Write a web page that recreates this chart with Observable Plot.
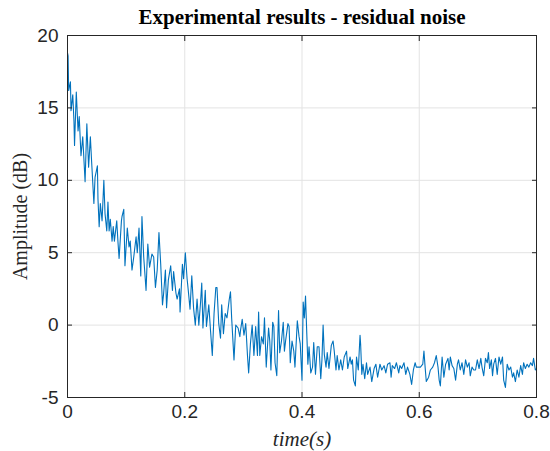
<!DOCTYPE html>
<html>
<head>
<meta charset="utf-8">
<script src="https://cdn.jsdelivr.net/npm/d3@7"></script>
<script src="https://cdn.jsdelivr.net/npm/@observablehq/plot@0.6"></script>
<style>
  html, body { margin: 0; padding: 0; background: #fff; }
</style>
</head>
<body>
<div id="chart"></div>
<script>
const titleText = "Experimental results - residual noise";
const xLabel = "time(s)";
const yLabel = "Amplitude (dB)";
const xTicks = [0, 0.2, 0.4, 0.6, 0.8];
const yTicks = [-5, 0, 5, 10, 15, 20];

const times = [
  0.000, 0.001, 0.002, 0.005, 0.006, 0.009, 0.011, 0.012, 0.015, 0.018, 0.020, 0.023, 0.026, 0.030, 0.033, 0.036,
  0.039, 0.041, 0.045, 0.047, 0.051, 0.052, 0.054, 0.056, 0.059, 0.062, 0.064, 0.067, 0.069, 0.071, 0.073, 0.076,
  0.078, 0.080, 0.084, 0.086, 0.088, 0.092, 0.093, 0.096, 0.098, 0.102, 0.105, 0.107, 0.110, 0.113, 0.117, 0.119,
  0.122, 0.125, 0.127, 0.130, 0.134, 0.137, 0.140, 0.144, 0.147, 0.150, 0.153, 0.156, 0.159, 0.162, 0.164, 0.167,
  0.169, 0.172, 0.176, 0.179, 0.181, 0.185, 0.187, 0.191, 0.192, 0.193, 0.196, 0.198, 0.201, 0.204, 0.206, 0.209,
  0.212, 0.215, 0.218, 0.221, 0.224, 0.227, 0.229, 0.231, 0.235, 0.237, 0.241, 0.244, 0.247, 0.250, 0.253, 0.255,
  0.258, 0.261, 0.263, 0.266, 0.269, 0.272, 0.276, 0.278, 0.280, 0.284, 0.287, 0.291, 0.294, 0.295, 0.298, 0.301,
  0.304, 0.307, 0.309, 0.312, 0.315, 0.318, 0.321, 0.324, 0.326, 0.328, 0.331, 0.334, 0.336, 0.339, 0.343, 0.345,
  0.347, 0.350, 0.352, 0.354, 0.357, 0.360, 0.362, 0.365, 0.368, 0.370, 0.372, 0.376, 0.378, 0.380, 0.383, 0.386,
  0.388, 0.392, 0.395, 0.397, 0.400, 0.402, 0.404, 0.406, 0.408, 0.410, 0.412, 0.415, 0.418, 0.420, 0.423, 0.426,
  0.429, 0.432, 0.434, 0.436, 0.438, 0.441, 0.443, 0.446, 0.450, 0.453, 0.455, 0.458, 0.460, 0.463, 0.466, 0.469,
  0.472, 0.476, 0.478, 0.482, 0.484, 0.486, 0.488, 0.491, 0.493, 0.496, 0.499, 0.500, 0.502, 0.504, 0.507, 0.510,
  0.512, 0.516, 0.519, 0.523, 0.526, 0.529, 0.533, 0.536, 0.540, 0.543, 0.546, 0.550, 0.552, 0.554, 0.558, 0.561,
  0.565, 0.567, 0.570, 0.574, 0.577, 0.580, 0.584, 0.587, 0.590, 0.593, 0.595, 0.599, 0.602, 0.606, 0.608, 0.610,
  0.612, 0.616, 0.619, 0.623, 0.626, 0.629, 0.632, 0.634, 0.636, 0.639, 0.642, 0.645, 0.649, 0.651, 0.653, 0.656,
  0.659, 0.662, 0.665, 0.667, 0.670, 0.673, 0.676, 0.679, 0.682, 0.685, 0.687, 0.690, 0.693, 0.696, 0.699, 0.702,
  0.705, 0.707, 0.710, 0.713, 0.716, 0.718, 0.720, 0.723, 0.725, 0.727, 0.730, 0.733, 0.736, 0.739, 0.742, 0.744,
  0.747, 0.750, 0.753, 0.756, 0.759, 0.761, 0.764, 0.767, 0.770, 0.773, 0.776, 0.778, 0.781, 0.784, 0.787, 0.790,
  0.793, 0.795, 0.798, 0.800
];

const amplitudes = [
  18.8, 18.6, 16.2, 16.8, 14.8, 15.9, 14.1, 12.4, 16.1, 13.4, 14.4, 11.7, 13.0, 9.9, 13.9, 10.9,
  13.0, 11.4, 8.4, 10.2, 11.0, 8.7, 6.8, 8.4, 7.2, 10.0, 7.7, 6.5, 8.5, 6.5, 7.3, 5.8,
  6.8, 5.8, 7.2, 5.8, 4.6, 7.2, 7.5, 8.0, 4.1, 6.7, 5.4, 5.8, 3.8, 4.7, 6.1, 5.0,
  6.7, 3.4, 7.5, 4.7, 2.4, 5.6, 4.0, 4.9, 4.7, 2.6, 3.8, 6.4, 4.2, 1.4, 2.2, 3.8,
  1.2, 3.1, 4.1, 2.4, 3.7, 2.2, 1.8, 2.5, 0.9, 1.7, 4.2, 3.2, 5.0, 3.2, 2.4, 1.1,
  3.4, 1.2, 0.0, 1.8, 0.0, 1.6, 2.9, -0.2, 2.4, -0.1, 1.4, -0.4, -2.1, 0.8, 2.6, 2.6,
  0.1, -0.9, 1.4, -0.6, 0.8, 0.5, 1.8, 2.3, 0.5, -2.4, 0.0, -0.2, -0.8, -0.4, 0.4, -0.7,
  0.1, -2.1, -3.3, -1.3, 0.0, -2.1, -0.1, -2.1, 0.9, -2.1, -0.8, -1.3, 0.5, -2.9, -0.2, -1.1,
  -3.1, 0.2, -0.1, -2.6, -3.5, 1.0, -1.9, -1.1, 0.2, -1.8, -1.1, 0.1, -0.1, -2.6, -1.1, -1.8,
  -2.9, 0.3, -0.8, -1.3, -3.8, 1.6, 0.5, 2.0, -0.4, -2.7, -1.5, -3.3, -2.9, -1.2, -3.4, -1.5,
  -1.5, -3.7, -2.4, 0.0, -2.0, -2.9, -1.9, -3.0, -1.4, -1.1, -1.8, -3.1, -2.1, -3.1, -2.4, -3.1,
  -2.2, -1.8, -3.0, -2.2, -2.7, -2.4, -3.8, -4.2, -2.2, -3.1, -0.7, -1.3, -3.4, -2.7, -3.7, -2.6,
  -3.4, -2.9, -3.9, -3.0, -2.7, -3.6, -2.7, -3.1, -2.8, -3.3, -2.7, -2.6, -3.6, -2.8, -3.0, -2.6,
  -3.3, -2.8, -3.0, -2.6, -3.4, -2.9, -3.4, -4.1, -3.1, -2.6, -2.9, -2.9, -2.9, -2.7, -1.8, -2.9,
  -3.9, -3.6, -3.1, -2.9, -2.6, -2.1, -2.9, -3.8, -4.2, -2.2, -3.6, -2.7, -2.3, -3.1, -2.2, -2.8,
  -3.0, -3.8, -2.7, -2.4, -3.1, -2.6, -3.4, -2.4, -2.9, -2.6, -3.5, -2.9, -3.1, -3.1, -2.4, -3.0,
  -2.3, -2.9, -3.5, -2.3, -2.6, -1.9, -3.0, -2.4, -3.5, -2.7, -2.3, -3.4, -2.2, -2.7, -2.2, -3.8,
  -4.3, -2.7, -3.1, -2.9, -3.6, -3.3, -3.9, -3.1, -3.6, -2.8, -3.4, -2.6, -3.0, -2.7, -2.9, -2.6,
  -2.8, -2.3, -3.1, -3.0
];

const data = times.map((t, i) => ({t, a: amplitudes[i]}));

const ink = "#262626";
const gridColor = "#e3e3e3";
const sans = "'Liberation Sans', Arial, Helvetica, sans-serif";
const serif = "'Liberation Serif', 'Times New Roman', serif";

const chart = Plot.plot({
  width: 550,
  height: 451,
  marginLeft: 67,
  marginRight: 14,
  marginTop: 35,
  marginBottom: 54,
  style: {fontFamily: sans, fontSize: "19px", color: ink, background: "#fff"},
  x: {domain: [0, 0.8], axis: null},
  y: {domain: [-5, 20], axis: null},
  marks: [
    Plot.gridX(xTicks.slice(1, -1), {stroke: gridColor, strokeOpacity: 1}),
    Plot.gridY(yTicks.slice(1, -1), {stroke: gridColor, strokeOpacity: 1}),
    Plot.line(data, {x: "t", y: "a", stroke: "#0072BD", strokeWidth: 1.1}),
    Plot.frame({stroke: ink, strokeWidth: 1}),
    // inward ticks on all four sides
    Plot.axisX(xTicks, {anchor: "bottom", tickSize: -5, tickFormat: () => "", label: null, stroke: ink}),
    Plot.axisX(xTicks, {anchor: "top", tickSize: -5, tickFormat: () => "", label: null, stroke: ink}),
    Plot.axisY(yTicks, {anchor: "left", tickSize: -5, tickFormat: () => "", label: null, stroke: ink}),
    Plot.axisY(yTicks, {anchor: "right", tickSize: -5, tickFormat: () => "", label: null, stroke: ink}),
    // tick labels
    Plot.axisX(xTicks, {anchor: "bottom", tickSize: 0, tickPadding: 7, tickFormat: d => String(d), label: null, fontSize: 19, fontFamily: sans, fill: ink}),
    Plot.axisY(yTicks, {anchor: "left", tickSize: 0, tickPadding: 9, tickFormat: d => String(d), label: null, fontSize: 19, fontFamily: sans, fill: ink}),
    // title and axis labels
    Plot.text([titleText], {frameAnchor: "top", dy: -18, textAnchor: "middle", lineAnchor: "middle", fontWeight: "bold", fontSize: 21, fontFamily: serif, fill: "#000"}),
    Plot.text([xLabel], {frameAnchor: "bottom", dy: 42, textAnchor: "middle", lineAnchor: "middle", fontStyle: "italic", fontSize: 21, fontFamily: serif, fill: ink, style: "letter-spacing: 1px"}),
    Plot.text([yLabel], {frameAnchor: "left", dx: -47, rotate: -90, textAnchor: "middle", lineAnchor: "middle", fontSize: 20, fontFamily: serif, fill: ink})
  ]
});

document.getElementById("chart").appendChild(chart);
</script>
</body>
</html>
